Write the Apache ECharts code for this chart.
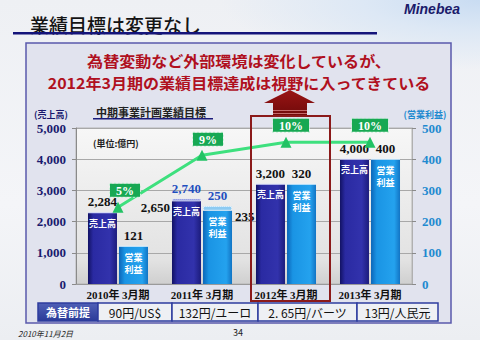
<!DOCTYPE html>
<html><head><meta charset="utf-8">
<script src="https://cdn.jsdelivr.net/npm/echarts@6/dist/echarts.min.js"></script>
<style>
html,body{margin:0;padding:0;width:480px;height:340px;overflow:hidden;
background:radial-gradient(ellipse 260px 70px at 100% 0%, #c9dcf2 0%, #dde8f5 45%, rgba(240,242,246,0) 100%), linear-gradient(180deg,#eef0f4 0%,#f4f5f8 60%,#eceef2 100%);}
#c{width:480px;height:340px;}
</style></head><body><div id="c"></div>
<script>
// ---- data ----
const categories = ['2010年 3月期', '2011年 3月期', '2012年 3月期', '2013年 3月期'];
const salesActual = [2284, 2650, 3200, 4000];      // 売上高 (億円)
const salesPlan   = [null, 2740, null, null];      // 計画値 (点線部)
const profitActual = [121, 235, 320, 400];         // 営業利益 (億円)
const profitPlan   = [null, 250, null, null];
const marginPct = [5, 9, 10, 10];                  // 営業利益率 (%)
const fxCells = ['為替前提', '90円/US$', '132円/ユーロ', '2. 65円/バーツ', '13円/人民元'];

// ---- helpers ----
const fmt = v => v.toLocaleString('en-US');
const serif = '"Liberation Serif","Noto Sans CJK JP",serif';
const sans = '"Noto Sans CJK JP","Noto Sans",sans-serif';
const salesCap = salesActual.map((v, i) => salesPlan[i] != null ? salesPlan[i] - v : 0);
const profitCap = profitActual.map((v, i) => profitPlan[i] != null ? profitPlan[i] - v : 0);
const zeros = categories.map(() => 0);
const lineLabelOffsets = [[7, 0], [6, 1], [5, 0], [0, 0]];

const salesGrad = new echarts.graphic.LinearGradient(0, 0, 1, 0, [
  {offset: 0, color: '#121264'}, {offset: 0.18, color: '#2a2aa2'},
  {offset: 0.75, color: '#3232ac'}, {offset: 1, color: '#1c1c7c'}]);
const profitGrad = new echarts.graphic.LinearGradient(0, 0, 1, 0, [
  {offset: 0, color: '#0c66b8'}, {offset: 0.2, color: '#1a94e4'},
  {offset: 0.8, color: '#24a2ee'}, {offset: 1, color: '#1274c4'}]);

const valueRich = {
  a: {color: '#111', fontFamily: serif, fontWeight: 'bold', fontSize: 13},
  b: {color: '#1f4fbf', fontFamily: serif, fontWeight: 'bold', fontSize: 13}
};

const chart = echarts.init(document.getElementById('c'), null, {renderer: 'svg'});

const tableX = [38, 98, 172, 258, 357, 438];
const tableEls = [];
fxCells.forEach((t, i) => {
  tableEls.push({
    type: 'rect', z: 5,
    shape: {x: tableX[i], y: 303, width: tableX[i + 1] - tableX[i], height: 18},
    style: {
      fill: i === 0 ? new echarts.graphic.LinearGradient(0, 0, 0, 1, [
        {offset: 0, color: '#5060b6'}, {offset: 1, color: '#2a3a98'}]) : '#eef0f4',
      stroke: '#2e3c9e', lineWidth: 1.5
    }
  });
  tableEls.push({
    type: 'text', z: 6,
    x: (tableX[i] + tableX[i + 1]) / 2, y: 312,
    style: {
      text: t, align: 'center', verticalAlign: 'middle',
      fill: i === 0 ? '#fff' : '#111', fontFamily: sans,
      fontSize: i === 0 ? 11 : 12, fontWeight: i === 0 ? 'bold' : 'normal'
    }
  });
});

const option = {
  animation: false,
  textStyle: {fontFamily: sans},
  graphic: [
    // main box
    {type: 'rect', z: -10, shape: {x: 26, y: 43, width: 425, height: 280},
      style: {fill: '#e1e3ee', stroke: '#5a5aac', lineWidth: 1.5}},
    // title
    {type: 'text', x: 30, y: 24, style: {text: '業績目標は変更なし', fontSize: 19, fontFamily: sans,
      fontWeight: 500, fill: '#141414', verticalAlign: 'middle'}},
    {type: 'rect', shape: {x: 13, y: 32, width: 364, height: 2.5}, style: {fill: '#14147a'}},
    {type: 'text', x: 432, y: 9, style: {text: 'Minebea', fontSize: 14, fontStyle: 'italic', fontWeight: 'bold',
      fontFamily: '"Liberation Sans",Arial,sans-serif', fill: '#1a1a6a', align: 'center', verticalAlign: 'middle'}},
    // red message
    {type: 'text', x: 239, y: 60, scaleX: 1.07, style: {text: '為替変動など外部環境は変化しているが、',
      fontSize: 15, fontWeight: 'bold',
      fontFamily: sans, fill: '#b0101e', align: 'center', verticalAlign: 'middle'}},
    {type: 'text', x: 239, y: 82, scaleX: 1.07, style: {text: '2012年3月期の業績目標達成は視野に入ってきている',
      fontSize: 15, fontWeight: 'bold',
      fontFamily: sans, fill: '#b0101e', align: 'center', verticalAlign: 'middle'}},
    // arrow
    {type: 'polygon', z: 8, shape: {points: [[290, 90], [315, 103], [307, 103], [307, 117], [273, 117], [273, 103], [264, 103]]},
      style: {fill: new echarts.graphic.LinearGradient(0, 0, 0, 1, [
        {offset: 0, color: '#9a1414'}, {offset: 1, color: '#6e0a0a'}])}},
    {type: 'rect', z: 9, shape: {x: 273, y: 110, width: 34, height: 1}, style: {fill: '#c46a6a'}},
    {type: 'rect', z: 9, shape: {x: 273, y: 113, width: 34, height: 1}, style: {fill: '#c46a6a'}},
    // highlight rectangle around 2012
    {type: 'rect', z: 20, shape: {x: 251, y: 116, width: 79, height: 185},
      style: {fill: 'none', stroke: '#8b1a1a', lineWidth: 2}},
    // axis titles and chart subtitle
    {type: 'text', x: 51, y: 114, style: {text: '(売上高)', fontSize: 9, fontWeight: 'bold', fontFamily: sans,
      fill: '#1a1a6e', align: 'center', verticalAlign: 'middle'}},
    {type: 'text', x: 425, y: 114, style: {text: '(営業利益)', fontSize: 9, fontWeight: 'bold', fontFamily: sans,
      fill: '#1f8ad0', align: 'center', verticalAlign: 'middle'}},
    {type: 'text', x: 96, y: 112, style: {text: '中期事業計画業績目標', fontSize: 11, fontWeight: 'bold', fontFamily: sans,
      fill: '#222', verticalAlign: 'middle'}},
    {type: 'rect', shape: {x: 93, y: 118, width: 120, height: 1.5}, style: {fill: '#1a1a7a'}},
    {type: 'text', z: 10, x: 93, y: 143, style: {text: '(単位:億円)', fontSize: 9, fontWeight: 'bold', fontFamily: sans,
      fill: '#222', verticalAlign: 'middle'}},
    // footer
    {type: 'text', x: 18, y: 333, style: {text: '2010年11月2日', fontSize: 8, fontStyle: 'italic', fontFamily: sans,
      fill: '#222', verticalAlign: 'middle'}},
    {type: 'text', x: 238, y: 332, style: {text: '34', fontSize: 9, fontFamily: sans,
      fill: '#222', align: 'center', verticalAlign: 'middle'}},
    ...tableEls
  ],
  grid: {left: 76, right: 68, top: 128, bottom: 56, show: true,
    backgroundColor: new echarts.graphic.LinearGradient(0, 0, 0, 1, [
      {offset: 0, color: '#f7f7f7'}, {offset: 0.85, color: '#e2e2e2'}, {offset: 1, color: '#cfcfcf'}]),
    borderColor: '#b4b4b4', borderWidth: 1},
  xAxis: {
    type: 'category', data: categories,
    axisLine: {lineStyle: {color: '#9a9a9a'}}, axisTick: {show: false},
    axisLabel: {fontFamily: serif, fontWeight: 'bold', fontSize: 11, color: '#111', margin: 5}
  },
  yAxis: [
    {type: 'value', min: 0, max: 5000, interval: 1000, position: 'left',
      axisLine: {show: true, lineStyle: {color: '#8a8a8a'}}, axisTick: {show: true, length: 4, lineStyle: {color: '#8a8a8a'}},
      axisLabel: {formatter: v => fmt(v), fontFamily: serif, fontWeight: 'bold', fontSize: 13, color: '#1a1a6e', margin: 10},
      splitLine: {lineStyle: {color: '#a8a8a8'}}},
    {type: 'value', min: 0, max: 500, interval: 100, position: 'right',
      axisLine: {show: true, lineStyle: {color: '#b0b0b0'}}, axisTick: {show: true, length: 4, lineStyle: {color: '#8a8a8a'}},
      axisLabel: {fontFamily: serif, fontWeight: 'bold', fontSize: 13, color: '#1f8ad0', margin: 10},
      splitLine: {show: false}},
    {type: 'value', show: false, min: -0.9, max: 11.1, splitLine: {show: false}}
  ],
  series: [
    {name: '売上高', type: 'bar', stack: 's', yAxisIndex: 0, data: salesActual, barWidth: 29, barGap: '7%',
      itemStyle: {color: salesGrad},
      label: {show: true, position: 'insideTop', distance: 6, formatter: '売上高', color: '#fff',
        fontFamily: sans, fontWeight: 'bold', fontSize: 9}},
    {name: '売上高実績', type: 'bar', stack: 's', yAxisIndex: 0, data: zeros, barWidth: 29,
      itemStyle: {color: 'transparent'},
      label: {show: true, position: 'left', distance: 2, offset: [0, 6], rich: valueRich,
        formatter: p => salesPlan[p.dataIndex] != null ? '{a|' + fmt(salesActual[p.dataIndex]) + '}' : ''}},
    {name: '売上高計画', type: 'bar', stack: 's', yAxisIndex: 0, data: salesCap, barWidth: 29,
      itemStyle: {color: '#8c96dc', borderColor: '#dfe4ff', borderType: 'dotted', borderWidth: 1},
      label: {show: true, position: 'top', distance: 4, rich: valueRich,
        formatter: p => salesPlan[p.dataIndex] != null ? '{b|' + fmt(salesPlan[p.dataIndex]) + '}' : '{a|' + fmt(salesActual[p.dataIndex]) + '}'}},
    {name: '営業利益', type: 'bar', stack: 'p', yAxisIndex: 1, data: profitActual, barWidth: 29,
      itemStyle: {color: profitGrad},
      label: {show: true, position: 'insideTop', distance: 5, formatter: '営業\n利益', color: '#fff',
        fontFamily: sans, fontWeight: 'bold', fontSize: 9, lineHeight: 12}},
    {name: '営業利益実績', type: 'bar', stack: 'p', yAxisIndex: 1, data: zeros, barWidth: 29,
      itemStyle: {color: 'transparent'},
      label: {show: true, position: 'right', distance: 3, offset: [0, 6], rich: valueRich,
        formatter: p => profitPlan[p.dataIndex] != null ? '{a|' + fmt(profitActual[p.dataIndex]) + '}' : ''}},
    {name: '営業利益計画', type: 'bar', stack: 'p', yAxisIndex: 1, data: profitCap, barWidth: 29,
      itemStyle: {color: '#8ccaf2', borderColor: '#e4f4ff', borderType: 'dotted', borderWidth: 1},
      label: {show: true, position: 'top', distance: 4, rich: valueRich,
        formatter: p => profitPlan[p.dataIndex] != null ? '{b|' + fmt(profitPlan[p.dataIndex]) + '}' : '{a|' + fmt(profitActual[p.dataIndex]) + '}'}},
    {name: '営業利益率', type: 'line', yAxisIndex: 2, z: 10,
      data: marginPct.map((v, i) => ({value: v, label: {offset: lineLabelOffsets[i]}})),
      symbol: 'triangle', symbolSize: 11,
      lineStyle: {color: '#3ee07e', width: 3},
      itemStyle: {color: '#22c264'},
      label: {show: true, position: 'top', distance: 5, formatter: '{c}%',
        color: '#fff', fontFamily: serif, fontWeight: 'bold', fontSize: 12,
        backgroundColor: '#17a853', padding: [1, 6, 0, 6],
        borderColor: '#c8f0d8', borderWidth: 1, borderType: 'dotted'}}
  ]
};
chart.setOption(option);
</script>
</body></html>
